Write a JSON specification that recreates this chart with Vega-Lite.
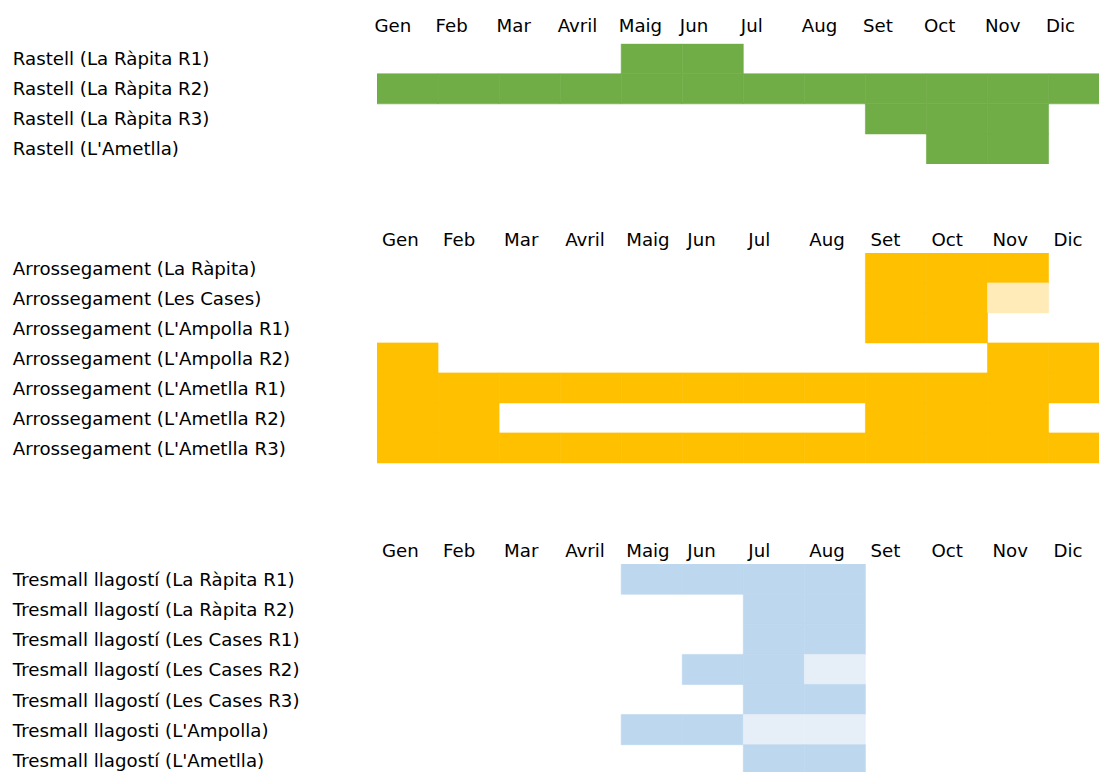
{
  "$schema": "https://vega.github.io/schema/vega-lite/v6.json",
  "autosize": {"type": "pad"},
  "padding": {"left": 12, "top": 16.7, "right": 0, "bottom": 0},
  "background": "white",
  "config": {
    "view": {"stroke": null},
    "axis": {"domain": false, "ticks": false, "tickSize": 0, "grid": false, "labelFont": "DejaVu Sans", "labelFontSize": 18.2, "labelColor": "#000000", "labelOverlap": false}
  },
  "datasets": {
    "rastell": [
      {"activitat": "Rastell (La Ràpita R1)", "mes": "Maig", "nivell": "principal"},
      {"activitat": "Rastell (La Ràpita R1)", "mes": "Jun", "nivell": "principal"},
      {"activitat": "Rastell (La Ràpita R2)", "mes": "Gen", "nivell": "principal"},
      {"activitat": "Rastell (La Ràpita R2)", "mes": "Feb", "nivell": "principal"},
      {"activitat": "Rastell (La Ràpita R2)", "mes": "Mar", "nivell": "principal"},
      {"activitat": "Rastell (La Ràpita R2)", "mes": "Avril", "nivell": "principal"},
      {"activitat": "Rastell (La Ràpita R2)", "mes": "Maig", "nivell": "principal"},
      {"activitat": "Rastell (La Ràpita R2)", "mes": "Jun", "nivell": "principal"},
      {"activitat": "Rastell (La Ràpita R2)", "mes": "Jul", "nivell": "principal"},
      {"activitat": "Rastell (La Ràpita R2)", "mes": "Aug", "nivell": "principal"},
      {"activitat": "Rastell (La Ràpita R2)", "mes": "Set", "nivell": "principal"},
      {"activitat": "Rastell (La Ràpita R2)", "mes": "Oct", "nivell": "principal"},
      {"activitat": "Rastell (La Ràpita R2)", "mes": "Nov", "nivell": "principal"},
      {"activitat": "Rastell (La Ràpita R2)", "mes": "Dic", "nivell": "principal"},
      {"activitat": "Rastell (La Ràpita R3)", "mes": "Set", "nivell": "principal"},
      {"activitat": "Rastell (La Ràpita R3)", "mes": "Oct", "nivell": "principal"},
      {"activitat": "Rastell (La Ràpita R3)", "mes": "Nov", "nivell": "principal"},
      {"activitat": "Rastell (L'Ametlla)", "mes": "Oct", "nivell": "principal"},
      {"activitat": "Rastell (L'Ametlla)", "mes": "Nov", "nivell": "principal"}
    ],
    "arrossegament": [
      {"activitat": "Arrossegament (La Ràpita)", "mes": "Set", "nivell": "principal"},
      {"activitat": "Arrossegament (La Ràpita)", "mes": "Oct", "nivell": "principal"},
      {"activitat": "Arrossegament (La Ràpita)", "mes": "Nov", "nivell": "principal"},
      {"activitat": "Arrossegament (Les Cases)", "mes": "Set", "nivell": "principal"},
      {"activitat": "Arrossegament (Les Cases)", "mes": "Oct", "nivell": "principal"},
      {"activitat": "Arrossegament (Les Cases)", "mes": "Nov", "nivell": "ocasional"},
      {"activitat": "Arrossegament (L'Ampolla R1)", "mes": "Set", "nivell": "principal"},
      {"activitat": "Arrossegament (L'Ampolla R1)", "mes": "Oct", "nivell": "principal"},
      {"activitat": "Arrossegament (L'Ampolla R2)", "mes": "Gen", "nivell": "principal"},
      {"activitat": "Arrossegament (L'Ampolla R2)", "mes": "Nov", "nivell": "principal"},
      {"activitat": "Arrossegament (L'Ampolla R2)", "mes": "Dic", "nivell": "principal"},
      {"activitat": "Arrossegament (L'Ametlla R1)", "mes": "Gen", "nivell": "principal"},
      {"activitat": "Arrossegament (L'Ametlla R1)", "mes": "Feb", "nivell": "principal"},
      {"activitat": "Arrossegament (L'Ametlla R1)", "mes": "Mar", "nivell": "principal"},
      {"activitat": "Arrossegament (L'Ametlla R1)", "mes": "Avril", "nivell": "principal"},
      {"activitat": "Arrossegament (L'Ametlla R1)", "mes": "Maig", "nivell": "principal"},
      {"activitat": "Arrossegament (L'Ametlla R1)", "mes": "Jun", "nivell": "principal"},
      {"activitat": "Arrossegament (L'Ametlla R1)", "mes": "Jul", "nivell": "principal"},
      {"activitat": "Arrossegament (L'Ametlla R1)", "mes": "Aug", "nivell": "principal"},
      {"activitat": "Arrossegament (L'Ametlla R1)", "mes": "Set", "nivell": "principal"},
      {"activitat": "Arrossegament (L'Ametlla R1)", "mes": "Oct", "nivell": "principal"},
      {"activitat": "Arrossegament (L'Ametlla R1)", "mes": "Nov", "nivell": "principal"},
      {"activitat": "Arrossegament (L'Ametlla R1)", "mes": "Dic", "nivell": "principal"},
      {"activitat": "Arrossegament (L'Ametlla R2)", "mes": "Gen", "nivell": "principal"},
      {"activitat": "Arrossegament (L'Ametlla R2)", "mes": "Feb", "nivell": "principal"},
      {"activitat": "Arrossegament (L'Ametlla R2)", "mes": "Set", "nivell": "principal"},
      {"activitat": "Arrossegament (L'Ametlla R2)", "mes": "Oct", "nivell": "principal"},
      {"activitat": "Arrossegament (L'Ametlla R2)", "mes": "Nov", "nivell": "principal"},
      {"activitat": "Arrossegament (L'Ametlla R3)", "mes": "Gen", "nivell": "principal"},
      {"activitat": "Arrossegament (L'Ametlla R3)", "mes": "Feb", "nivell": "principal"},
      {"activitat": "Arrossegament (L'Ametlla R3)", "mes": "Mar", "nivell": "principal"},
      {"activitat": "Arrossegament (L'Ametlla R3)", "mes": "Avril", "nivell": "principal"},
      {"activitat": "Arrossegament (L'Ametlla R3)", "mes": "Maig", "nivell": "principal"},
      {"activitat": "Arrossegament (L'Ametlla R3)", "mes": "Jun", "nivell": "principal"},
      {"activitat": "Arrossegament (L'Ametlla R3)", "mes": "Jul", "nivell": "principal"},
      {"activitat": "Arrossegament (L'Ametlla R3)", "mes": "Aug", "nivell": "principal"},
      {"activitat": "Arrossegament (L'Ametlla R3)", "mes": "Set", "nivell": "principal"},
      {"activitat": "Arrossegament (L'Ametlla R3)", "mes": "Oct", "nivell": "principal"},
      {"activitat": "Arrossegament (L'Ametlla R3)", "mes": "Nov", "nivell": "principal"},
      {"activitat": "Arrossegament (L'Ametlla R3)", "mes": "Dic", "nivell": "principal"}
    ],
    "tresmall": [
      {"activitat": "Tresmall llagostí (La Ràpita R1)", "mes": "Maig", "nivell": "principal"},
      {"activitat": "Tresmall llagostí (La Ràpita R1)", "mes": "Jun", "nivell": "principal"},
      {"activitat": "Tresmall llagostí (La Ràpita R1)", "mes": "Jul", "nivell": "principal"},
      {"activitat": "Tresmall llagostí (La Ràpita R1)", "mes": "Aug", "nivell": "principal"},
      {"activitat": "Tresmall llagostí (La Ràpita R2)", "mes": "Jul", "nivell": "principal"},
      {"activitat": "Tresmall llagostí (La Ràpita R2)", "mes": "Aug", "nivell": "principal"},
      {"activitat": "Tresmall llagostí (Les Cases R1)", "mes": "Jul", "nivell": "principal"},
      {"activitat": "Tresmall llagostí (Les Cases R1)", "mes": "Aug", "nivell": "principal"},
      {"activitat": "Tresmall llagostí (Les Cases R2)", "mes": "Jun", "nivell": "principal"},
      {"activitat": "Tresmall llagostí (Les Cases R2)", "mes": "Jul", "nivell": "principal"},
      {"activitat": "Tresmall llagostí (Les Cases R2)", "mes": "Aug", "nivell": "ocasional"},
      {"activitat": "Tresmall llagostí (Les Cases R3)", "mes": "Jul", "nivell": "principal"},
      {"activitat": "Tresmall llagostí (Les Cases R3)", "mes": "Aug", "nivell": "principal"},
      {"activitat": "Tresmall llagosti (L'Ampolla)", "mes": "Maig", "nivell": "principal"},
      {"activitat": "Tresmall llagosti (L'Ampolla)", "mes": "Jun", "nivell": "principal"},
      {"activitat": "Tresmall llagosti (L'Ampolla)", "mes": "Jul", "nivell": "ocasional"},
      {"activitat": "Tresmall llagosti (L'Ampolla)", "mes": "Aug", "nivell": "ocasional"},
      {"activitat": "Tresmall llagostí (L'Ametlla)", "mes": "Jul", "nivell": "principal"},
      {"activitat": "Tresmall llagostí (L'Ametlla)", "mes": "Aug", "nivell": "principal"}
    ]
  },
  "spacing": 88.2,
  "bounds": "flush",
  "resolve": {"scale": {"color": "independent", "stroke": "independent", "x": "independent", "y": "independent"}},
  "vconcat": [
    {
      "width": 722.3,
      "height": 120.3,
      "data": {"name": "rastell"},
      "mark": {"type": "rect", "clip": true, "strokeWidth": 0.6},
      "encoding": {
        "x": {"field": "mes", "type": "ordinal",
          "scale": {"domain": ["Gen","Feb","Mar","Avril","Maig","Jun","Jul","Aug","Set","Oct","Nov","Dic"], "range": [0, 732.6], "paddingInner": 0, "paddingOuter": 0},
          "axis": {"orient": "top", "title": null, "labelAlign": "left", "labelOffset": -33, "labelPadding": 12, "labelBaseline": "alphabetic", "labelAngle": 0}},
        "y": {"field": "activitat", "type": "nominal",
          "scale": {"domain": ["Rastell (La Ràpita R1)", "Rastell (La Ràpita R2)", "Rastell (La Ràpita R3)", "Rastell (L'Ametlla)"], "paddingInner": 0, "paddingOuter": 0},
          "axis": {"orient": "left", "title": null, "labelAlign": "left", "labelPadding": 364.7, "labelLimit": 0, "labelBaseline": "middle", "labelOffset": 1}},
        "color": {"field": "nivell", "type": "nominal", "scale": {"domain": ["principal"], "range": ["#70AD47"]}, "legend": null},
        "stroke": {"field": "nivell", "type": "nominal", "scale": {"domain": ["principal"], "range": ["#70AD47"]}, "legend": null}
      }
    },
    {
      "width": 722.3,
      "height": 222.3,
      "data": {"name": "arrossegament"},
      "mark": {"type": "rect", "clip": true, "strokeWidth": 0.6},
      "encoding": {
        "x": {"field": "mes", "type": "ordinal",
          "scale": {"domain": ["Gen","Feb","Mar","Avril","Maig","Jun","Jul","Aug","Set","Oct","Nov","Dic"], "range": [0, 732.6], "paddingInner": 0, "paddingOuter": 0},
          "axis": {"orient": "top", "title": null, "labelAlign": "left", "labelOffset": -25.5, "labelPadding": 7.8, "labelBaseline": "alphabetic", "labelAngle": 0}},
        "y": {"field": "activitat", "type": "nominal",
          "scale": {"domain": ["Arrossegament (La Ràpita)", "Arrossegament (Les Cases)", "Arrossegament (L'Ampolla R1)", "Arrossegament (L'Ampolla R2)", "Arrossegament (L'Ametlla R1)", "Arrossegament (L'Ametlla R2)", "Arrossegament (L'Ametlla R3)"], "range": [0, 210], "paddingInner": 0, "paddingOuter": 0},
          "axis": {"orient": "left", "title": null, "labelAlign": "left", "labelPadding": 364.7, "labelLimit": 0, "labelBaseline": "middle", "labelOffset": 2}},
        "color": {"field": "nivell", "type": "nominal", "scale": {"domain": ["principal", "ocasional"], "range": ["#FFC000", "#FFEBB7"]}, "legend": null},
        "stroke": {"field": "nivell", "type": "nominal", "scale": {"domain": ["principal", "ocasional"], "range": ["#FFC000", "#FFEBB7"]}, "legend": null}
      }
    },
    {
      "width": 722.3,
      "height": 208.8,
      "data": {"name": "tresmall"},
      "mark": {"type": "rect", "clip": true, "strokeWidth": 0.6},
      "encoding": {
        "x": {"field": "mes", "type": "ordinal",
          "scale": {"domain": ["Gen","Feb","Mar","Avril","Maig","Jun","Jul","Aug","Set","Oct","Nov","Dic"], "range": [0, 732.6], "paddingInner": 0, "paddingOuter": 0},
          "axis": {"orient": "top", "title": null, "labelAlign": "left", "labelOffset": -25.5, "labelPadding": 7.5, "labelBaseline": "alphabetic", "labelAngle": 0}},
        "y": {"field": "activitat", "type": "nominal",
          "scale": {"domain": ["Tresmall llagostí (La Ràpita R1)", "Tresmall llagostí (La Ràpita R2)", "Tresmall llagostí (Les Cases R1)", "Tresmall llagostí (Les Cases R2)", "Tresmall llagostí (Les Cases R3)", "Tresmall llagosti (L'Ampolla)", "Tresmall llagostí (L'Ametlla)"], "range": [0, 210.7], "paddingInner": 0, "paddingOuter": 0},
          "axis": {"orient": "left", "title": null, "labelAlign": "left", "labelPadding": 364.7, "labelLimit": 0, "labelBaseline": "middle", "labelOffset": 2}},
        "color": {"field": "nivell", "type": "nominal", "scale": {"domain": ["principal", "ocasional"], "range": ["#BDD7EE", "#E6EEF8"]}, "legend": null},
        "stroke": {"field": "nivell", "type": "nominal", "scale": {"domain": ["principal", "ocasional"], "range": ["#BDD7EE", "#E6EEF8"]}, "legend": null}
      }
    }
  ]
}
